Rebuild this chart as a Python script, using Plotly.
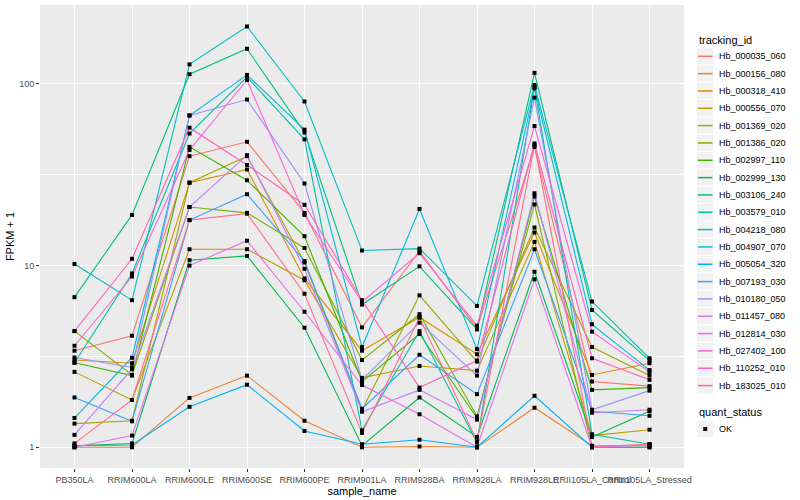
import plotly.graph_objects as go

samples = ["PB350LA", "RRIM600LA", "RRIM600LE", "RRIM600SE", "RRIM600PE", "RRIM901LA",
           "RRIM928BA", "RRIM928LA", "RRIM928LE", "RRII105LA_Control", "RRII105LA_Stressed"]

tracking_ids = ["Hb_000035_060", "Hb_000156_080", "Hb_000318_410", "Hb_000556_070", "Hb_001369_020",
                "Hb_001386_020", "Hb_002997_110", "Hb_002999_130", "Hb_003106_240", "Hb_003579_010",
                "Hb_004218_080", "Hb_004907_070", "Hb_005054_320", "Hb_007193_030", "Hb_010180_050",
                "Hb_011457_080", "Hb_012814_030", "Hb_027402_100", "Hb_110252_010", "Hb_183025_010"]

colors = ["#F8766D", "#EA8331", "#D89000", "#C09B00", "#A3A500", "#7CAE00", "#39B600", "#00BB4E",
          "#00BF7D", "#00C1A3", "#00BFC4", "#00BAE0", "#00B0F6", "#35A2FF", "#9590FF", "#C77CFF",
          "#E76BF3", "#FA62DB", "#FF62BC", "#FF6C91"]

# FPKM + 1 per sample (order of `samples`)
hb_000035_060 = [3.4, 4.11, 40, 48, 19.5, 4.57, 12.0, 4.5, 45, 2.3, 2.17]
hb_000156_080 = [1.0, 1.0, 1.87, 2.48, 1.40, 1.0, 1.01, 1.0, 1.65, 1.02, 1.02]
hb_000318_410 = [3.02, 2.9, 28.6, 33.8, 8.5, 3.4, 5.2, 3.25, 15.2, 2.5, 2.9]
hb_000556_070 = [2.6, 1.82, 12.3, 12.3, 8.3, 2.41, 2.8, 2.64, 13.5, 1.16, 1.25]
hb_001369_020 = [1.35, 1.40, 28.6, 40, 10.4, 1.6, 6.86, 2.96, 16.2, 3.56, 2.48]
hb_001386_020 = [4.36, 2.5, 21, 19.5, 12.5, 3.02, 5.4, 1.48, 21.7, 1.0, 1.0]
hb_002997_110 = [2.92, 2.48, 45, 29.5, 14.5, 2.3, 4.2, 1.45, 24, 2.07, 2.13]
hb_002999_130 = [1.02, 1.05, 10.7, 11.3, 4.55, 1.02, 1.88, 1.14, 9.25, 1.14, 1.58]
hb_003106_240 = [6.7, 19, 113, 156, 54, 6.1, 9.9, 4.45, 115, 5.7, 3.0]
hb_003579_010 = [2.92, 9.05, 53.3, 109, 49.5, 1.24, 4.36, 1.06, 96, 1.18, 1.04]
hb_004218_080 = [10.2, 6.45, 128, 207, 80, 12.1, 12.4, 6.0, 98.5, 6.34, 3.09]
hb_004907_070 = [1.45, 3.11, 67, 112, 56, 3.56, 20.5, 3.47, 94.5, 4.75, 2.66]
hb_005054_320 = [1.02, 1.03, 1.67, 2.21, 1.23, 1.04, 1.10, 1.0, 1.92, 1.0, 1.0]
hb_007193_030 = [1.88, 1.39, 17.8, 24.7, 10.6, 1.63, 3.23, 1.96, 12.3, 1.58, 1.49]
hb_010180_050 = [3.12, 2.75, 67, 82, 28.3, 2.35, 4.85, 2.48, 84, 1.61, 2.05]
hb_011457_080 = [1.17, 2.69, 21, 40.5, 9.6, 1.57, 2.07, 1.42, 25, 1.55, 1.61]
hb_012814_030 = [1.0, 1.16, 10, 13.7, 5.57, 2.2, 1.52, 1.0, 8.4, 1.0, 1.03]
hb_027402_100 = [3.62, 8.7, 43.3, 105, 19, 6.3, 11.7, 4.67, 58.6, 4.33, 2.6]
hb_110252_010 = [4.36, 10.9, 57.4, 35.8, 21.6, 6.45, 2.13, 3.0, 47, 3.09, 2.35]
hb_183025_010 = [1.05, 1.82, 17.8, 19.3, 7.0, 1.2, 5.17, 1.08, 46, 1.01, 1.04]

series_values = [hb_000035_060, hb_000156_080, hb_000318_410, hb_000556_070, hb_001369_020,
                 hb_001386_020, hb_002997_110, hb_002999_130, hb_003106_240, hb_003579_010,
                 hb_004218_080, hb_004907_070, hb_005054_320, hb_007193_030, hb_010180_050,
                 hb_011457_080, hb_012814_030, hb_027402_100, hb_110252_010, hb_183025_010]

quant_levels = ["OK"]

y_major = [1, 10, 100]
y_minor = [0.3162, 3.162, 31.62, 316.2]

FONT = "Liberation Sans, Arial, sans-serif"

W, H = 800, 500
ML, MR, MT, MB = 40, 116, 5, 32
PW, PH = W - ML - MR, H - MT - MB


def px(xp):
    return (xp - ML) / PW


def py(yp):
    return (H - MB - yp) / PH


fig = go.Figure()
for name, vals, col in zip(tracking_ids, series_values, colors):
    fig.add_trace(go.Scatter(x=samples, y=vals, mode="lines", name=name,
                             line=dict(color=col, width=1.1), showlegend=False))

pts_x, pts_y = [], []
for vals in series_values:
    pts_x += samples
    pts_y += vals
fig.add_trace(go.Scatter(x=pts_x, y=pts_y, mode="markers", name=quant_levels[0],
                         marker=dict(symbol="square", size=4, color="black"),
                         showlegend=False))

# ---- hand-built ggplot-style legend ----
shapes, annos = [], []
LX0, KEY, ROW = 697, 16.5, 17.33
annos.append(dict(text="tracking_id", x=px(LX0), y=py(40.5), xref="paper", yref="paper",
                  xanchor="left", yanchor="middle", showarrow=False,
                  font=dict(size=11, color="black", family=FONT)))
for i, (name, col) in enumerate(zip(tracking_ids, colors)):
    cy = 56.3 + i * ROW
    shapes.append(dict(type="rect", xref="paper", yref="paper",
                       x0=px(LX0), x1=px(LX0 + KEY), y0=py(cy - ROW / 2 + 0.5), y1=py(cy + ROW / 2 - 0.5),
                       fillcolor="#F2F2F2", line=dict(width=0), layer="above"))
    shapes.append(dict(type="line", xref="paper", yref="paper",
                       x0=px(LX0 + 1), x1=px(LX0 + KEY - 1), y0=py(cy), y1=py(cy),
                       line=dict(color=col, width=1.5), layer="above"))
    annos.append(dict(text=name, x=px(LX0 + KEY + 3.5), y=py(cy), xref="paper", yref="paper",
                      xanchor="left", yanchor="middle", showarrow=False,
                      font=dict(size=9, color="black", family=FONT)))

annos.append(dict(text="quant_status", x=px(LX0), y=py(411.7), xref="paper", yref="paper",
                  xanchor="left", yanchor="middle", showarrow=False,
                  font=dict(size=11, color="black", family=FONT)))
cy = 429
shapes.append(dict(type="rect", xref="paper", yref="paper",
                   x0=px(LX0), x1=px(LX0 + KEY), y0=py(cy - ROW / 2 + 0.5), y1=py(cy + ROW / 2 - 0.5),
                   fillcolor="#F2F2F2", line=dict(width=0), layer="above"))
shapes.append(dict(type="rect", xref="paper", yref="paper",
                   x0=px(LX0 + KEY / 2 - 2), x1=px(LX0 + KEY / 2 + 2), y0=py(cy - 2), y1=py(cy + 2),
                   fillcolor="black", line=dict(width=0), layer="above"))
annos.append(dict(text=quant_levels[0], x=px(LX0 + KEY + 3.5), y=py(cy), xref="paper", yref="paper",
                  xanchor="left", yanchor="middle", showarrow=False,
                  font=dict(size=9, color="black", family=FONT)))

fig.update_layout(
    width=W, height=H,
    margin=dict(l=ML, r=MR, t=MT, b=MB),
    paper_bgcolor="white", plot_bgcolor="#EBEBEB",
    font=dict(family=FONT, size=9, color="#4D4D4D"),
    showlegend=False,
    shapes=shapes, annotations=annos,
    xaxis=dict(type="category", categoryorder="array", categoryarray=samples,
               range=[-0.6, 10.6], showgrid=True, gridcolor="white", gridwidth=1.1,
               zeroline=False, ticks="outside", ticklen=3, tickcolor="#333333",
               tickangle=0, tickfont=dict(size=9, color="#4D4D4D"),
               title=dict(text="sample_name", font=dict(size=11, color="black"), standoff=0)),
    yaxis=dict(type="log", range=[-0.114, 2.434], tickvals=y_major,
               ticktext=[str(v) for v in y_major], showgrid=True, gridcolor="white",
               gridwidth=1.1, zeroline=False, ticks="outside", ticklen=3,
               tickcolor="#333333", tickfont=dict(size=9, color="#4D4D4D"),
               minor=dict(tickvals=y_minor, showgrid=True, gridcolor="white",
                          gridwidth=0.5, ticklen=0),
               title=dict(text="FPKM + 1", font=dict(size=11, color="black"), standoff=2)),
)

fig.write_html("out.html", config={"displayModeBar": False},
               post_script="document.body.style.margin='0px';document.body.style.overflow='hidden';")
